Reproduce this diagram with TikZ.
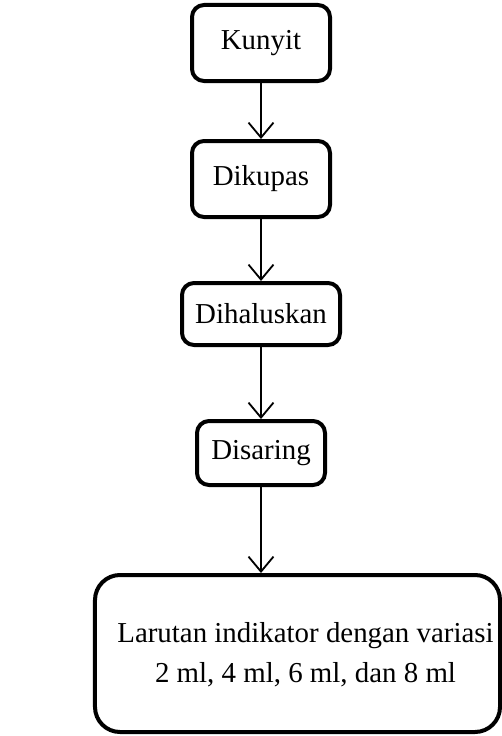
\documentclass[tikz,border=0pt]{standalone}
\usepackage{fontspec}
\setmainfont{Liberation Serif}
\usetikzlibrary{arrows.meta, positioning}

\begin{document}
\begin{tikzpicture}[x=1bp, y=-1bp, >={Straight Barb[length=15bp, width=25bp]},
  font=\fontsize{29}{41}\selectfont,
  langkah/.style={draw, line width=4bp, rounded corners=12bp, align=center, inner sep=0pt},
  panah/.style={->, line width=1.8bp}]

% --- Batas gambar ---
\useasboundingbox (0,0) rectangle (502,736);

% --- Kotak proses ---
\node[langkah, minimum width=138bp, minimum height=76bp] (kunyit) at (261,43) {Kunyit};
\node[langkah, minimum width=138bp, minimum height=76bp] (kupas) at (261,179) {Dikupas};
\node[langkah, minimum width=158bp, minimum height=62bp] (halus) at (261,314) {Dihaluskan};
\node[langkah, minimum width=128bp, minimum height=64bp] (saring) at (261,453) {Disaring};
\node[langkah, minimum width=405bp, minimum height=157bp, rounded corners=25bp,
  text depth=2bp] (larutan) at (297.5,653.5)
  {\hspace*{16bp}Larutan indikator dengan variasi\\\hspace*{16bp}2 ml, 4 ml, 6 ml, dan 8 ml};

% --- Panah antar langkah ---
\draw[panah] (kunyit) -- (kupas);
\draw[panah] (kupas) -- (halus);
\draw[panah] (halus) -- (saring);
\draw[panah] (saring.south) -- (saring.south |- larutan.north);

\end{tikzpicture}
\end{document}
